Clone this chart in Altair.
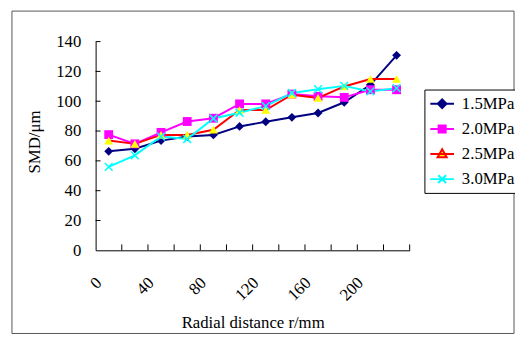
import altair as alt
import pandas as pd

# ---- data ----
radial = [10, 30, 50, 70, 90, 110, 130, 150, 170, 190, 210, 230]
smd_15 = [66.4, 68.1, 73.6, 76.3, 77.4, 83.1, 86.2, 89.2, 92.1, 99.3, 111.0, 130.8]
smd_20 = [77.6, 71.4, 79.1, 86.4, 88.6, 98.2, 98.2, 104.8, 103.3, 102.6, 107.7, 107.7]
smd_25 = [73.6, 71.4, 77.4, 77.4, 80.9, 94.1, 94.1, 104.4, 102.2, 109.9, 114.9, 114.9]
smd_30 = [56.0, 63.7, 76.3, 74.7, 88.4, 92.3, 96.7, 105.5, 108.1, 110.3, 106.6, 108.8]
series = ["1.5MPa", "2.0MPa", "2.5MPa", "3.0MPa"]
x_tick_values = [20, 40, 60, 80, 100, 120, 140, 160, 180, 200, 220, 240]
x_label_values = [0, 40, 80, 120, 160, 200]
y_tick_values = [20, 40, 60, 80, 100, 120, 140]
y_label_values = [0, 20, 40, 60, 80, 100, 120, 140]

line_colors = ["#000080", "#FF00FF", "#FF0000", "#00FFFF"]
marker_colors = ["#000080", "#FF00FF", "#FFFF00", "#00FFFF"]
x_path = "M-1,-0.75L-0.75,-1L1,0.75L0.75,1Z M-1,0.75L0.75,-1L1,-0.75L-0.75,1Z"
marker_shapes = ["diamond", "square", "triangle-up", x_path]
legend_shapes = [
    "M-3,0L3,0M-1.1,0L0,-1.1L1.1,0L0,1.1Z",
    "M-3,0L3,0M-0.9,-0.9L0.9,-0.9L0.9,0.9L-0.9,0.9Z",
    "M-3,0L3,0M0,-1.2L1.15,0.8L-1.15,0.8Z",
    "M-3,0L3,0M-1,-1L1,1M-1,1L1,-1",
]

rows = []
for name, vals in zip(series, [smd_15, smd_20, smd_25, smd_30]):
    for r, v in zip(radial, vals):
        rows.append({"r": r, "smd": v, "series": name, "marker": name, "legend": name})
df = pd.DataFrame(rows)

FONT = "Liberation Serif"
W, H = 319, 212

xs = alt.Scale(domain=[0, 240], nice=False, zero=False)
ys = alt.Scale(domain=[0, 140], nice=False)

x_axis = alt.Axis(
    values=x_label_values, ticks=False, labelAngle=315, labelAlign="right",
    labelBaseline="middle", labelPadding=30, labelOffset=3, labelFlush=False,
    labelOverlap=False, labelBound=False, title="Radial distance r/mm",
    titleX=W / 2, titleY=78, titleAlign="center", titleBaseline="alphabetic",
)
y_axis = alt.Axis(
    values=y_label_values, ticks=False, labelPadding=15, title="SMD/μm",
    titleAngle=270, titleX=-62, titleY=101.5, titleAlign="center",
    titleBaseline="middle",
)

X = alt.X("r:Q", scale=xs, axis=x_axis)
Y = alt.Y("smd:Q", scale=ys, axis=y_axis)

lines = alt.Chart(df).mark_line(strokeWidth=2).encode(
    x=X, y=Y,
    stroke=alt.Stroke("series:N", scale=alt.Scale(range=line_colors), legend=None),
)

points = alt.Chart(df).mark_point(filled=True, opacity=1, size=81).encode(
    x=X, y=Y,
    fill=alt.Fill("marker:N", scale=alt.Scale(range=marker_colors), legend=None),
    shape=alt.Shape("marker:N", scale=alt.Scale(range=marker_shapes), legend=None),
)

leg = alt.Legend(orient="none", legendX=334, legendY=48.7, title=None,
                 padding=6, rowPadding=7.5, symbolSize=64, symbolStrokeWidth=2,
                 symbolOffset=3.5, labelOffset=11.5, labelFont=FONT,
                 labelFontSize=17, labelColor="black", strokeColor="black",
                 fillColor="white")
legend_layer = alt.Chart(df).mark_point(size=0, opacity=1, strokeWidth=2).encode(
    x=X, y=Y,
    fill=alt.Fill("legend:N", scale=alt.Scale(range=marker_colors), legend=leg),
    stroke=alt.Stroke("legend:N", scale=alt.Scale(range=line_colors), legend=leg),
    shape=alt.Shape("legend:N", scale=alt.Scale(range=legend_shapes), legend=leg),
)

xt = alt.Chart(pd.DataFrame({"v": x_tick_values})).mark_rule(
    color="black", strokeWidth=1).encode(
    x=alt.X("v:Q", scale=xs, axis=x_axis),
    y=alt.value(H), y2=alt.value(H - 6),
)
yt = alt.Chart(pd.DataFrame({"v": y_tick_values})).mark_rule(
    color="black", strokeWidth=1).encode(
    y=alt.Y("v:Q", scale=ys, axis=y_axis),
    x=alt.value(0), x2=alt.value(5),
)

border = alt.Chart(alt.Data(values=[{}])).mark_rect(
    filled=False, stroke="#555555", strokeWidth=1).encode(
    x=alt.value(-85), x2=alt.value(425), y=alt.value(-31), y2=alt.value(296.5),
)

chart = alt.layer(border, lines, points, legend_layer, xt, yt).properties(
    width=W, height=H, autosize=alt.AutoSizeParams(type="none"),
    padding={"left": 89, "top": 31.5, "right": 107, "bottom": 90},
).resolve_scale(
    fill="independent", shape="independent", stroke="independent"
).configure_view(strokeWidth=0).configure_axis(
    grid=False, domainColor="black", domainWidth=1,
    labelFont=FONT, labelFontSize=17, labelColor="black",
    titleFont=FONT, titleFontSize=17, titleFontWeight="normal", titleColor="black",
)

chart.save("out.html", embed_options={"renderer": "svg", "actions": False})
